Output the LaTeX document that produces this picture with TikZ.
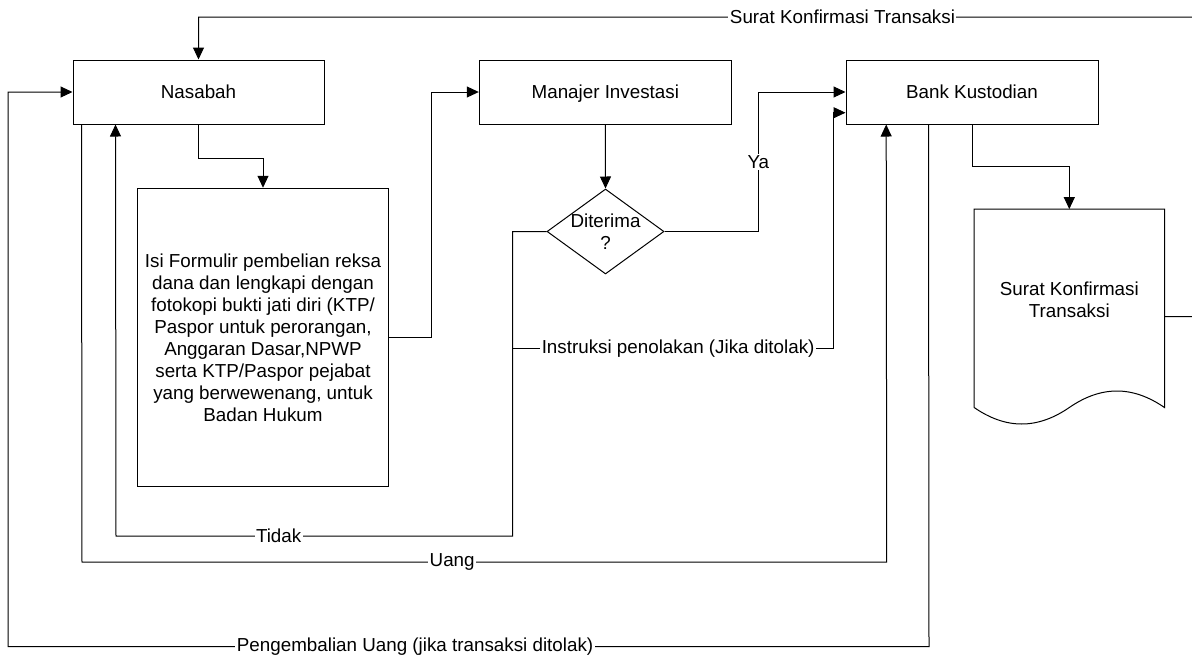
\documentclass[tikz,border=0pt]{standalone}
\usepackage{fontspec}
\setmainfont{Liberation Sans}
\usetikzlibrary{arrows.meta,shapes.geometric,calc}
\begin{document}
\begin{tikzpicture}[x=1pt,y=-1pt,
  base/.style={font=\fontsize{18.8}{22}\selectfont},
  box/.style={base,draw,line width=1pt,inner sep=0pt,align=center},
  hbox/.style={box,minimum width=252pt,minimum height=64pt,text height=13.6pt,text depth=0pt},
  dia/.style={draw,shape=diamond,line width=1pt,inner sep=0pt,minimum width=117pt,minimum height=85pt},
  conn/.style={line width=1pt},
  arr/.style={conn,-{Triangle[length=12pt,width=11pt]}},
  lbl/.style={base,fill=white,inner sep=1.5pt}]
\clip (0,0) rectangle (1192,659);
\fill[white] (0,0) rectangle (1192,659);

% nodes
\node[hbox,minimum width=251pt] (nas) at (198.5,92) {Nasabah};
\node[hbox] (man) at (605.3,92) {Manajer Investasi};
\node[hbox] (bank) at (972,92) {Bank Kustodian};
\node[box,minimum width=251.5pt,minimum height=298.5pt] (form) at (263,337.5)
  {Isi Formulir pembelian reksa\\dana dan lengkapi dengan\\fotokopi bukti jati diri (KTP/\\Paspor untuk perorangan,\\Anggaran Dasar,NPWP\\serta KTP/Paspor pejabat\\yang berwewenang, untuk\\Badan Hukum};
\node[dia] (dec) at (605.5,231.5) {};
\node[base,align=center,inner sep=0pt] (dectext) at (605.5,231.5) {Diterima\\?};

% document shape
\node[minimum width=190pt,minimum height=198pt,inner sep=0pt] (doc) at (1069.3,308.3) {};
\draw[line width=1pt] (doc.south west) -- (doc.north west) -- (doc.north east) -- (doc.south east)
  .. controls +(-32,-22) and +(32,-22) .. (doc.south)
  .. controls +(-32,22) and +(32,22) .. (doc.south west);
\node[base,align=center,inner sep=0pt] (doctext) at (1069.3,300) {Surat Konfirmasi\\Transaksi};

% connectors
\draw[arr] (nas.south) -- (198.5,158.3) -| (form.north);
\draw[arr] (form.east) -- (431,337.5) |- (man.west);
\draw[arr] (man.south) -- (dec.north);
\draw[arr] (dec.east) -- (758.3,231.5) -- node[lbl] (lya) {Ya} (758.3,92) -- (bank.west);
\draw[arr] (dec.west) -- (512.7,231.5) -- (512.7,536)
  -- node[lbl,pos=0.59] (ltidak) {Tidak} (116,536) -- ($(nas.south west)+(43,0)$);
\coordinate (tj) at (512.7,348.3);
\draw[arr] (tj) -- node[lbl,pos=0.516] (linst) {Instruksi penolakan (Jika ditolak)} (833.3,348.3)
  -- (833.3,112.7) -- ($(bank.west)+(0,20.7)$);
\draw[arr] ($(nas.south west)+(9,0)$) -- (82,562)
  -- node[lbl,pos=0.46] (luang) {Uang} (886.7,562) -- ($(bank.south west)+(40.7,0)$);
\draw[arr] ($(bank.south west)+(83,0)$) -- (929,646.7)
  -- node[lbl,pos=0.558] (lpeng) {Pengembalian Uang (jika transaksi ditolak)} (8,646.7)
  -- (8,92) -- (nas.west);
\draw[arr] (bank.south) -- (972,166.7) -| (doc.north);
\draw[arr] ($(doc.north east)+(0,107.4)$) -- (1200,316.7) -- (1200,17)
  -- node[lbl,pos=0.357] (lsurat) {Surat Konfirmasi Transaksi} (198.5,17) -- (nas.north);
\end{tikzpicture}
\end{document}
